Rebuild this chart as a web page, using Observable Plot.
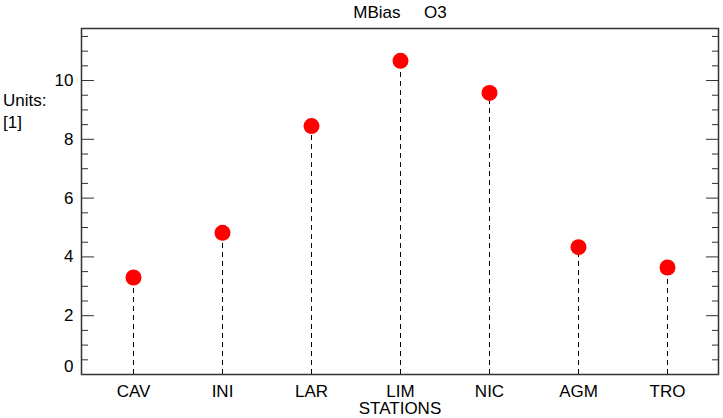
<!DOCTYPE html>
<html>
<head>
<meta charset="utf-8">
<script src="https://cdn.jsdelivr.net/npm/d3@7"></script>
<script src="https://cdn.jsdelivr.net/npm/@observablehq/plot@0.6"></script>
<style>
  html, body { margin: 0; padding: 0; background: #fff; }
  #wrap { position: relative; width: 723px; height: 418px; font-family: "Liberation Sans", Arial, sans-serif; }
  .lab { position: absolute; font-size: 17px; color: #000; white-space: pre; line-height: 17px; }
</style>
</head>
<body>
<div id="wrap">
  <div class="lab" style="left:0; width:800px; top:4px; text-align:center;">MBias     O3</div>
  <div class="lab" style="left:3px; top:92px;">Units:</div>
  <div class="lab" style="left:3px; top:114px;">[1]</div>
  <div class="lab" style="left:0; width:800px; top:400px; text-align:center;">STATIONS</div>
</div>
<script>
const stations = ["CAV", "INI", "LAR", "LIM", "NIC", "AGM", "TRO"];
const values = [3.30, 4.82, 8.45, 10.67, 9.58, 4.33, 3.64];
const majorTicks = [0, 2, 4, 6, 8, 10];
const minorTicks = [0.5, 1, 1.5, 2.5, 3, 3.5, 4.5, 5, 5.5, 6.5, 7, 7.5, 8.5, 9, 9.5, 10.5, 11, 11.5];

const data = stations.map((s, i) => ({station: s, value: values[i]}));

const chart = Plot.plot({
  width: 723,
  height: 418,
  marginLeft: 81,
  marginRight: 5,
  marginTop: 28,
  marginBottom: 44,
  style: {fontFamily: "'Liberation Sans', Arial, sans-serif", fontSize: "17px", background: "white", color: "black"},
  x: {type: "point", domain: stations, padding: 0.57},
  y: {domain: [0, 11.77]},
  marks: [
    Plot.axisX({tickSize: 0, tickPadding: 10, label: null, fontSize: 17}),
    Plot.axisY({ticks: majorTicks.filter(d => d > 0), tickSize: 0, tickPadding: 8, label: null, fontSize: 17}),
    Plot.axisY({ticks: [0], tickSize: 0, tickPadding: 8, label: null, fontSize: 17, dy: -8}),
    Plot.axisY({ticks: majorTicks, tickSize: 13, dx: 13, text: null, label: null, stroke: "#333"}),
    Plot.axisY({ticks: minorTicks, tickSize: 7, dx: 7, text: null, label: null, stroke: "#333"}),
    Plot.axisY({anchor: "right", ticks: majorTicks, tickSize: 13, dx: -13, text: null, label: null, stroke: "#333"}),
    Plot.axisY({anchor: "right", ticks: minorTicks, tickSize: 7, dx: -7, text: null, label: null, stroke: "#333"}),
    Plot.ruleX(data, {x: "station", y1: 0, y2: "value", stroke: "black", strokeDasharray: "5,4", strokeWidth: 1}),
    Plot.dot(data, {x: "station", y: "value", r: 8, fill: "#ff0000", stroke: "none"}),
    Plot.frame({stroke: "#333", strokeWidth: 1.5})
  ]
});
document.getElementById("wrap").prepend(chart);
chart.style.position = "absolute";
chart.style.left = "0";
chart.style.top = "0";
</script>
</body>
</html>
